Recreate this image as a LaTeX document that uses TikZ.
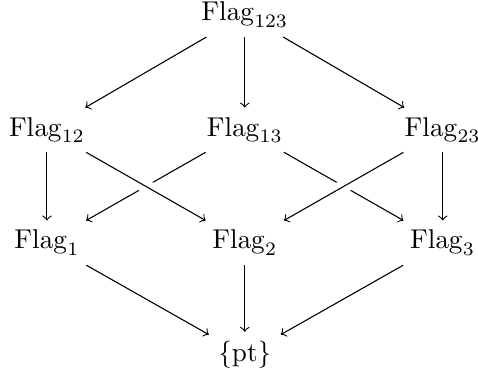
\documentclass[tikz,border=0pt]{standalone}
\begin{document}
\begin{tikzpicture}[>=to]
    \useasboundingbox (0,0) rectangle (6.18,4.92);

    \node (f123) at (3.165,4.73) {$\mathrm{Flag}_{123}$};
    \node (f12) at (0.607,3.24) {$\mathrm{Flag}_{12}$};
    \node (f13) at (3.165,3.24) {$\mathrm{Flag}_{13}$};
    \node (f23) at (5.723,3.24) {$\mathrm{Flag}_{23}$};
    \node (f1) at (0.607,1.78) {$\mathrm{Flag}_{1}$};
    \node (f2) at (3.165,1.78) {$\mathrm{Flag}_{2}$};
    \node (f3) at (5.723,1.78) {$\mathrm{Flag}_{3}$};
    \node (pt) at (3.165,0.33) {$\{\mathrm{pt}\}$};

    \draw[->] (f123) -- (f12);
    \draw[->] (f123) -- (f13);
    \draw[->] (f123) -- (f23);

    \draw[->] (f12) -- (f1);
    \draw[->] (f23) -- (f3);
    \draw[->] (f13) -- (f1);
    \draw[->] (f13) -- (f3);
    \draw[->,preaction={draw=white,line width=5pt,-}] (f12) -- (f2);
    \draw[->,preaction={draw=white,line width=5pt,-}] (f23) -- (f2);

    \draw[->] (f1) -- (pt);
    \draw[->] (f2) -- (pt);
    \draw[->] (f3) -- (pt);
\end{tikzpicture}
\end{document}
